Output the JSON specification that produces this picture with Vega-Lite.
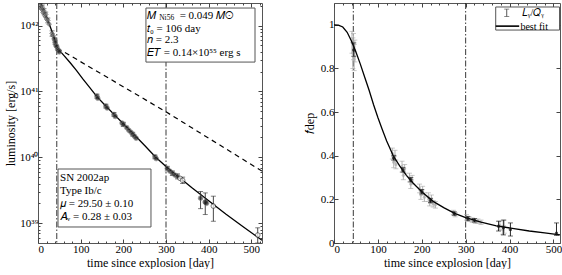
{
"$schema":"https://vega.github.io/schema/vega-lite/v6.json",
"padding":{"left":3,"top":2,"right":0,"bottom":0},
"background":"white",
"spacing":72,
"bounds":"flush",
"config":{"font":"Liberation Serif","view":{"stroke":"#555","strokeWidth":1},
"axis":{"grid":false,"domain":false,"labelFontSize":11,"titleFontSize":12,"titleFontWeight":"normal","labelColor":"#000","titleColor":"#000","tickColor":"#444","tickSize":-4,"labelPadding":4,"labelFont":"Liberation Serif","titleFont":"Liberation Serif"},
"text":{"font":"Liberation Serif"}},
"datasets":{
"vlines":[{"t":44},{"t":300}],
"lcurve":[{"t":3,"L":2.82e42},{"t":6,"L":2.19e42},{"t":12,"L":1.78e42},{"t":18,"L":1.445e42},{"t":24,"L":1.148e42},{"t":30,"L":9.12e41},{"t":38,"L":6.46e41},{"t":45,"L":4.57e41},{"t":60,"L":3.55e41},{"t":75,"L":2.75e41},{"t":90,"L":2.09e41},{"t":105,"L":1.55e41},{"t":120,"L":1.175e41},{"t":138,"L":8.32e40},{"t":160,"L":5.89e40},{"t":180,"L":4.37e40},{"t":200,"L":3.24e40},{"t":220,"L":2.4e40},{"t":250,"L":1.51e40},{"t":276,"L":1.0e40},{"t":300,"L":7.24e39},{"t":330,"L":5.01e39},{"t":360,"L":3.47e39},{"t":400,"L":2.19e39},{"t":440,"L":1.38e39},{"t":480,"L":8.91e38},{"t":525,"L":5.5e38}],
"lco":[{"t":45,"L":4.57e41},{"t":300,"L":4.9e40},{"t":525,"L":6.17e39}],
"lpts":[{"t":6,"L":2.0e42,"g":"e"},{"t":8,"L":1.78e42,"g":"e"},{"t":10,"L":1.9e42,"g":"e"},{"t":12,"L":1.58e42,"g":"e"},{"t":14,"L":1.66e42,"g":"e"},{"t":16,"L":1.41e42,"g":"e"},{"t":18,"L":1.48e42,"g":"e"},{"t":20,"L":1.26e42,"g":"e"},{"t":23,"L":1.2e42,"g":"e"},{"t":26,"L":1.05e42,"g":"e"},{"t":33,"L":7.6e41,"g":"e"},{"t":35,"L":7.08e41,"g":"e"},
{"t":38,"L":6.3e41,"g":"m"},{"t":40,"L":5.6e41,"g":"m"},{"t":42,"L":5.0e41,"g":"m"},{"t":44,"L":4.8e41,"g":"m"},{"t":46,"L":4.37e41,"g":"m"},{"t":48,"L":4.17e41,"g":"m"},{"t":50,"L":3.98e41,"g":"m"},{"t":138,"L":8.5e40,"g":"m"},{"t":140,"L":7.9e40,"g":"m"},{"t":159,"L":6.0e40,"g":"m"},{"t":162,"L":5.6e40,"g":"m"},{"t":178,"L":4.47e40,"g":"m"},{"t":181,"L":4.17e40,"g":"m"},{"t":197,"L":3.31e40,"g":"m"},{"t":200,"L":3.16e40,"g":"m"},{"t":208,"L":2.82e40,"g":"m"},{"t":213,"L":2.57e40,"g":"m"},{"t":218,"L":2.4e40,"g":"m"},{"t":222,"L":2.24e40,"g":"m"},{"t":226,"L":2.09e40,"g":"m"},{"t":230,"L":1.95e40,"g":"m"},{"t":274,"L":1.02e40,"g":"m"},{"t":277,"L":9.55e39,"g":"m"},{"t":303,"L":6.76e39,"g":"m"},{"t":309,"L":6.17e39,"g":"m"},{"t":315,"L":5.75e39,"g":"m"},{"t":321,"L":5.37e39,"g":"m"},{"t":327,"L":5.13e39,"g":"m"},{"t":381,"L":2.4e39,"g":"m"},{"t":395,"L":2.0e39,"g":"m"},
{"t":392,"L":2.09e39,"g":"b"},
{"t":333,"L":4.79e39,"g":"o"},{"t":339,"L":4.47e39,"g":"o"},{"t":411,"L":1.82e39,"g":"o"},{"t":515,"L":6.6e38,"g":"o"}],
"lerr":[{"t":6,"lo":1.85e42,"hi":2.15e42},{"t":10,"lo":1.75e42,"hi":2.05e42},{"t":14,"lo":1.5e42,"hi":1.8e42},{"t":18,"lo":1.35e42,"hi":1.6e42},{"t":23,"lo":1.1e42,"hi":1.3e42},{"t":33,"lo":6.9e41,"hi":8.3e41},{"t":40,"lo":5.2e41,"hi":6.0e41},{"t":138,"lo":7.9e40,"hi":9.1e40},{"t":159,"lo":5.6e40,"hi":6.4e40},{"t":178,"lo":4.2e40,"hi":4.8e40},{"t":200,"lo":2.95e40,"hi":3.4e40},{"t":222,"lo":2.1e40,"hi":2.4e40},{"t":274,"lo":9.5e39,"hi":1.08e40},{"t":303,"lo":6.2e39,"hi":7.3e39},{"t":315,"lo":5.3e39,"hi":6.2e39},{"t":327,"lo":4.7e39,"hi":5.6e39},{"t":339,"lo":4.0e39,"hi":5.0e39},{"t":381,"lo":1.66e39,"hi":3.02e39},{"t":392,"lo":1.35e39,"hi":2.88e39},{"t":411,"lo":1.07e39,"hi":2.57e39},{"t":515,"lo":5.0e38,"hi":8.5e38}],
"lbox":[{"t1":253,"t2":508.6,"L1":2.79e41,"L2":1.845e42},{"t1":46.9,"t2":264.8,"L1":8.75e38,"L2":6.64e39}],
"ltext":[{"t":255.5,"L":1.40e42,"txt":"𝑀","s":"n"},{"t":284,"L":1.3e42,"txt":"Ni56","s":"sub"},{"t":332,"L":1.40e42,"txt":"= 0.049 𝑀⊙","s":"n"},{"t":255.5,"L":8.9e41,"txt":"𝑡₀ = 106 day","s":"n"},{"t":255.5,"L":6.03e41,"txt":"𝑛  = 2.3","s":"n"},{"t":255.5,"L":3.83e41,"txt":"𝐸𝑇 = 0.14×10⁵⁵ erg s","s":"n"},{"t":51.6,"L":4.85e39,"txt":"SN 2002ap","s":"n"},{"t":51.6,"L":3.08e39,"txt":"Type Ib/c","s":"n"},{"t":51.6,"L":1.95e39,"txt":"𝜇 = 29.50 ± 0.10","s":"n"},{"t":51.6,"L":1.24e39,"txt":"𝐴ᵥ = 0.28 ± 0.03","s":"n"}],
"rcurve":[{"t":0,"f":1.0},{"t":10,"f":0.999},{"t":20,"f":0.99},{"t":30,"f":0.966},{"t":40,"f":0.925},{"t":50,"f":0.875},{"t":60,"f":0.82},{"t":70,"f":0.76},{"t":80,"f":0.70},{"t":90,"f":0.635},{"t":100,"f":0.575},{"t":110,"f":0.52},{"t":120,"f":0.468},{"t":135,"f":0.40},{"t":150,"f":0.352},{"t":165,"f":0.31},{"t":180,"f":0.275},{"t":200,"f":0.235},{"t":225,"f":0.192},{"t":250,"f":0.162},{"t":275,"f":0.136},{"t":300,"f":0.116},{"t":335,"f":0.096},{"t":370,"f":0.078},{"t":410,"f":0.066},{"t":445,"f":0.055},{"t":480,"f":0.046},{"t":515,"f":0.037}],
"rerr":[{"t":41,"f":0.92,"lo":0.87,"hi":0.97,"c":"g"},{"t":43,"f":0.87,"lo":0.80,"hi":0.94,"c":"g"},{"t":44.5,"f":0.90,"lo":0.84,"hi":0.96,"c":"g"},{"t":46,"f":0.85,"lo":0.79,"hi":0.91,"c":"g"},{"t":47.5,"f":0.88,"lo":0.83,"hi":0.93,"c":"g"},{"t":133,"f":0.41,"lo":0.385,"hi":0.435,"c":"g"},{"t":136,"f":0.37,"lo":0.345,"hi":0.395,"c":"g"},{"t":139,"f":0.40,"lo":0.375,"hi":0.425,"c":"g"},{"t":141,"f":0.36,"lo":0.34,"hi":0.38,"c":"g"},{"t":155,"f":0.35,"lo":0.325,"hi":0.375,"c":"g"},{"t":158,"f":0.31,"lo":0.29,"hi":0.33,"c":"g"},{"t":161,"f":0.34,"lo":0.32,"hi":0.36,"c":"g"},{"t":172,"f":0.30,"lo":0.28,"hi":0.32,"c":"g"},{"t":175,"f":0.27,"lo":0.25,"hi":0.29,"c":"g"},{"t":178,"f":0.29,"lo":0.27,"hi":0.31,"c":"g"},{"t":195,"f":0.25,"lo":0.23,"hi":0.27,"c":"g"},{"t":198,"f":0.22,"lo":0.20,"hi":0.24,"c":"g"},{"t":202,"f":0.24,"lo":0.22,"hi":0.26,"c":"g"},{"t":206,"f":0.21,"lo":0.19,"hi":0.23,"c":"g"},{"t":215,"f":0.21,"lo":0.19,"hi":0.23,"c":"g"},{"t":218,"f":0.185,"lo":0.17,"hi":0.20,"c":"g"},{"t":222,"f":0.20,"lo":0.18,"hi":0.22,"c":"g"},{"t":226,"f":0.18,"lo":0.165,"hi":0.195,"c":"g"},{"t":231,"f":0.175,"lo":0.16,"hi":0.19,"c":"g"},{"t":272,"f":0.14,"lo":0.13,"hi":0.15,"c":"g"},{"t":276,"f":0.13,"lo":0.12,"hi":0.14,"c":"g"},{"t":302,"f":0.118,"lo":0.105,"hi":0.13,"c":"g"},{"t":308,"f":0.11,"lo":0.10,"hi":0.12,"c":"g"},{"t":315,"f":0.105,"lo":0.095,"hi":0.115,"c":"g"},{"t":322,"f":0.10,"lo":0.09,"hi":0.11,"c":"g"},{"t":328,"f":0.10,"lo":0.09,"hi":0.11,"c":"g"},{"t":335,"f":0.095,"lo":0.085,"hi":0.105,"c":"g"},{"t":378,"f":0.08,"lo":0.06,"hi":0.10,"c":"g"},{"t":388,"f":0.075,"lo":0.045,"hi":0.105,"c":"g"},{"t":385,"f":0.06,"lo":0.04,"hi":0.08,"c":"g"},
{"t":45,"f":0.885,"lo":0.856,"hi":0.917,"c":"k"},{"t":136,"f":0.39,"lo":0.38,"hi":0.40,"c":"k"},{"t":157,"f":0.335,"lo":0.325,"hi":0.345,"c":"k"},{"t":175,"f":0.29,"lo":0.28,"hi":0.30,"c":"k"},{"t":200,"f":0.235,"lo":0.225,"hi":0.245,"c":"k"},{"t":220,"f":0.195,"lo":0.185,"hi":0.205,"c":"k"},{"t":274,"f":0.135,"lo":0.127,"hi":0.143,"c":"k"},{"t":305,"f":0.112,"lo":0.102,"hi":0.122,"c":"k"},{"t":320,"f":0.104,"lo":0.096,"hi":0.112,"c":"k"},{"t":375,"f":0.077,"lo":0.055,"hi":0.10,"c":"k"},{"t":386,"f":0.07,"lo":0.037,"hi":0.105,"c":"k"},{"t":402,"f":0.062,"lo":0.032,"hi":0.092,"c":"k"},{"t":507,"f":0.045,"lo":0.035,"hi":0.092,"c":"k"}],
"rbox":[{"t1":368.5,"t2":514,"f1":0.976,"f2":1.0817}],
"rlegbar":[{"t":393.6,"lo":1.038,"hi":1.072}],
"rlegline":[{"t1":368.5,"t2":422,"f":0.994}],
"rtext":[{"t":427.8,"f":1.054,"txt":"𝐿ᵧ/𝑄ᵧ"},{"t":424.8,"f":0.992,"txt":"best fit"}]
},
"hconcat":[
{"width":224,"height":240,
"resolve":{"axis":{"x":"independent","y":"independent"}},
"layer":[
{"data":{"name":"vlines"},"mark":{"type":"rule","strokeDash":[6,2,1.5,2],"strokeWidth":0.9,"color":"#222"},
"encoding":{"x":{"field":"t","type":"quantitative","scale":{"domain":[0,525],"nice":false,"zero":false},"axis":{"orient":"top","values":[20,40,60,80,120,140,160,180,220,240,260,280,320,340,360,380,420,440,460,480,520],"labels":false,"title":null,"tickSize":-2}}}},
{"data":{"name":"lco"},"mark":{"type":"line","strokeDash":[5,4],"strokeWidth":1.2,"color":"#000","clip":true},
"encoding":{"x":{"field":"t","type":"quantitative","scale":{"domain":[0,525],"nice":false,"zero":false},"axis":{"orient":"bottom","values":[20,40,60,80,120,140,160,180,220,240,260,280,320,340,360,380,420,440,460,480,520],"labels":false,"title":null,"tickSize":-2}},
"y":{"field":"L","type":"quantitative","scale":{"type":"log","domain":[5e38,2.2e42],"nice":false},"axis":{"orient":"left","values":[6e38,7e38,8e38,9e38,2e39,3e39,4e39,5e39,6e39,7e39,8e39,9e39,2e40,3e40,4e40,5e40,6e40,7e40,8e40,9e40,2e41,3e41,4e41,5e41,6e41,7e41,8e41,9e41,2e42],"labels":false,"title":null,"tickSize":-2}}}},
{"data":{"name":"lcurve"},"mark":{"type":"line","strokeWidth":1.3,"color":"#000","clip":true},
"encoding":{"x":{"field":"t","type":"quantitative","scale":{"domain":[0,525],"nice":false,"zero":false},"axis":{"orient":"top","values":[0,100,200,300,400,500],"labels":false,"title":null}},
"y":{"field":"L","type":"quantitative","scale":{"type":"log","domain":[5e38,2.2e42],"nice":false},"axis":{"orient":"right","values":[1e39,1e40,1e41,1e42],"labels":false,"title":null}}}},
{"data":{"name":"lbox"},"mark":{"type":"rect","fill":"white","stroke":"#555","strokeWidth":1},
"encoding":{"x":{"field":"t1","type":"quantitative","scale":{"domain":[0,525],"nice":false,"zero":false},"axis":null},"x2":{"field":"t2"},
"y":{"field":"L1","type":"quantitative","scale":{"type":"log","domain":[5e38,2.2e42],"nice":false},"axis":{"orient":"right","values":[6e38,7e38,8e38,9e38,2e39,3e39,4e39,5e39,6e39,7e39,8e39,9e39,2e40,3e40,4e40,5e40,6e40,7e40,8e40,9e40,2e41,3e41,4e41,5e41,6e41,7e41,8e41,9e41,2e42],"labels":false,"title":null,"tickSize":-2}},"y2":{"field":"L2"}}},
{"data":{"name":"lerr"},"mark":{"type":"errorbar","color":"#333","ticks":{"size":5},"thickness":0.9,"clip":true},
"encoding":{"x":{"field":"t","type":"quantitative","scale":{"domain":[0,525],"nice":false,"zero":false},"axis":null},
"y":{"field":"lo","type":"quantitative","scale":{"type":"log","domain":[5e38,2.2e42],"nice":false},"axis":null},"y2":{"field":"hi"}}},
{"data":{"name":"lpts"},"mark":{"type":"point","filled":true,"clip":true,"strokeWidth":0.8},
"encoding":{"x":{"field":"t","type":"quantitative","scale":{"domain":[0,525],"nice":false,"zero":false},"axis":{"orient":"bottom","values":[0,100,200,300,400,500],"format":"d","title":"time since explosion [day]","titlePadding":3}},
"y":{"field":"L","type":"quantitative","scale":{"type":"log","domain":[5e38,2.2e42],"nice":false},"axis":{"orient":"left","values":[1e39,1e40,1e41,1e42],"title":"luminosity [erg/s]","titlePadding":2,"labelExpr":"round(log(datum.value)/LN10)==39 ? '10³⁹' : round(log(datum.value)/LN10)==40 ? '10⁴⁰' : round(log(datum.value)/LN10)==41 ? '10⁴¹' : '10⁴²'"}},
"fill":{"field":"g","type":"nominal","scale":{"domain":["e","m","b","o"],"range":["#777","#222","#111","#ffffff"]},"legend":null},
"stroke":{"field":"g","type":"nominal","scale":{"domain":["e","m","b","o"],"range":["#444","#777","#333","#222"]},"legend":null},
"size":{"field":"g","type":"nominal","scale":{"domain":["e","m","b","o"],"range":[22,22,55,22]},"legend":null},
"shape":{"field":"g","type":"nominal","scale":{"domain":["e","m","b","o"],"range":["diamond","circle","circle","circle"]},"legend":null}}},
{"data":{"name":"ltext"},"transform":[{"filter":"datum.s=='n'"}],"mark":{"type":"text","align":"left","baseline":"middle","fontSize":11,"color":"#000"},
"encoding":{"x":{"field":"t","type":"quantitative","scale":{"domain":[0,525],"nice":false,"zero":false},"axis":null},
"y":{"field":"L","type":"quantitative","scale":{"type":"log","domain":[5e38,2.2e42],"nice":false},"axis":null},"text":{"field":"txt"}}},
{"data":{"name":"ltext"},"transform":[{"filter":"datum.s=='sub'"}],"mark":{"type":"text","align":"left","baseline":"middle","fontSize":7.5,"color":"#000"},
"encoding":{"x":{"field":"t","type":"quantitative","scale":{"domain":[0,525],"nice":false,"zero":false},"axis":null},
"y":{"field":"L","type":"quantitative","scale":{"type":"log","domain":[5e38,2.2e42],"nice":false},"axis":null},"text":{"field":"txt"}}}
]},
{"width":226,"height":240,
"resolve":{"axis":{"x":"independent","y":"independent"}},
"layer":[
{"data":{"name":"vlines"},"mark":{"type":"rule","strokeDash":[6,2,1.5,2],"strokeWidth":0.9,"color":"#222"},
"encoding":{"x":{"field":"t","type":"quantitative","scale":{"domain":[0,515],"nice":false,"zero":false},"axis":{"orient":"top","values":[20,40,60,80,120,140,160,180,220,240,260,280,320,340,360,380,420,440,460,480],"labels":false,"title":null,"tickSize":-2}}}},
{"data":{"name":"rerr"},"transform":[{"filter":"datum.c=='g'"}],"mark":{"type":"errorbar","color":"#aaa","ticks":{"size":5},"thickness":0.9},
"encoding":{"x":{"field":"t","type":"quantitative","scale":{"domain":[0,515],"nice":false,"zero":false},"axis":{"orient":"bottom","values":[20,40,60,80,120,140,160,180,220,240,260,280,320,340,360,380,420,440,460,480],"labels":false,"title":null,"tickSize":-2}},
"y":{"field":"lo","type":"quantitative","scale":{"domain":[0,1.1],"nice":false,"zero":false},"axis":null},"y2":{"field":"hi"}}},
{"data":{"name":"rerr"},"transform":[{"filter":"datum.c=='g'"}],"mark":{"type":"point","filled":true,"color":"#aaa","size":10},
"encoding":{"x":{"field":"t","type":"quantitative","scale":{"domain":[0,515],"nice":false,"zero":false},"axis":null},
"y":{"field":"f","type":"quantitative","scale":{"domain":[0,1.1],"nice":false,"zero":false},"axis":null}}},
{"data":{"name":"rcurve"},"mark":{"type":"line","strokeWidth":1.3,"color":"#000","clip":true},
"encoding":{"x":{"field":"t","type":"quantitative","scale":{"domain":[0,515],"nice":false,"zero":false},"axis":{"orient":"top","values":[0,100,200,300,400,500],"labels":false,"title":null}},
"y":{"field":"f","type":"quantitative","scale":{"domain":[0,1.1],"nice":false,"zero":false},"axis":{"orient":"right","values":[0,0.2,0.4,0.6,0.8,1],"labels":false,"title":null}}}},
{"data":{"name":"rerr"},"transform":[{"filter":"datum.c=='k'"}],"mark":{"type":"errorbar","color":"#111","ticks":{"size":5},"thickness":0.9},
"encoding":{"x":{"field":"t","type":"quantitative","scale":{"domain":[0,515],"nice":false,"zero":false},"axis":null},
"y":{"field":"lo","type":"quantitative","scale":{"domain":[0,1.1],"nice":false,"zero":false},"axis":null},"y2":{"field":"hi"}}},
{"data":{"name":"rerr"},"transform":[{"filter":"datum.c=='k'"}],"mark":{"type":"point","filled":true,"color":"#111","size":12},
"encoding":{"x":{"field":"t","type":"quantitative","scale":{"domain":[0,515],"nice":false,"zero":false},"axis":{"orient":"bottom","values":[0,100,200,300,400,500],"format":"d","title":"time since explosion [day]","titlePadding":3}},
"y":{"field":"f","type":"quantitative","scale":{"domain":[0,1.1],"nice":false,"zero":false},"axis":{"orient":"left","values":[0,0.2,0.4,0.6,0.8,1],"format":"~g","title":"𝑓dep","titlePadding":4}}}},
{"data":{"name":"rbox"},"mark":{"type":"rect","fill":"white","stroke":"#555","strokeWidth":1},
"encoding":{"x":{"field":"t1","type":"quantitative","scale":{"domain":[0,515],"nice":false,"zero":false},"axis":null},"x2":{"field":"t2"},
"y":{"field":"f1","type":"quantitative","scale":{"domain":[0,1.1],"nice":false,"zero":false},"axis":null},"y2":{"field":"f2"}}},
{"data":{"name":"rlegbar"},"mark":{"type":"errorbar","color":"#444","ticks":{"size":5},"thickness":0.9},
"encoding":{"x":{"field":"t","type":"quantitative","scale":{"domain":[0,515],"nice":false,"zero":false},"axis":null},
"y":{"field":"lo","type":"quantitative","scale":{"domain":[0,1.1],"nice":false,"zero":false},"axis":null},"y2":{"field":"hi"}}},
{"data":{"name":"rlegline"},"mark":{"type":"rule","strokeWidth":1.6,"color":"#000"},
"encoding":{"x":{"field":"t1","type":"quantitative","scale":{"domain":[0,515],"nice":false,"zero":false},"axis":null},"x2":{"field":"t2"},
"y":{"field":"f","type":"quantitative","scale":{"domain":[0,1.1],"nice":false,"zero":false},"axis":null}}},
{"data":{"name":"rtext"},"mark":{"type":"text","align":"left","baseline":"middle","fontSize":10,"color":"#000"},
"encoding":{"x":{"field":"t","type":"quantitative","scale":{"domain":[0,515],"nice":false,"zero":false},"axis":null},
"y":{"field":"f","type":"quantitative","scale":{"domain":[0,1.1],"nice":false,"zero":false},"axis":null},"text":{"field":"txt"}}}
]}
]
}
